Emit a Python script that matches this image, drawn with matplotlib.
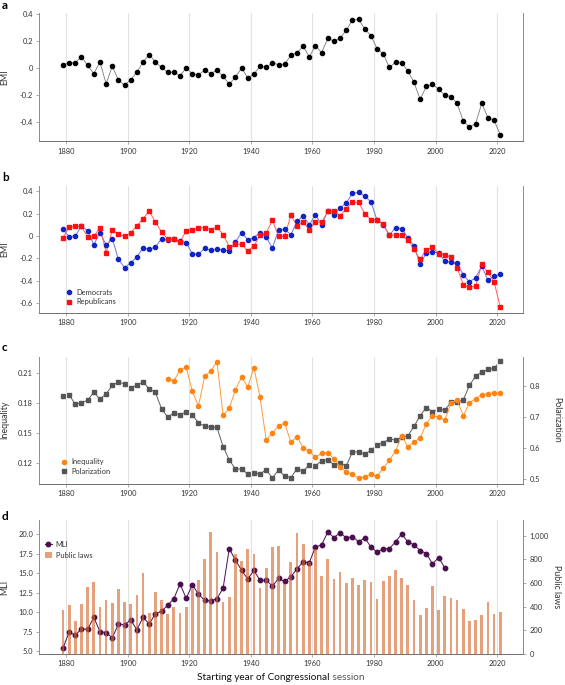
import numpy as np
import matplotlib.pyplot as plt
from matplotlib.lines import Line2D
from matplotlib.patches import Patch
from matplotlib.ticker import FuncFormatter

plt.rcParams['font.family'] = ['Lato', 'DejaVu Sans']

# --- Data (one value per Congress, starting year) ---
years = np.arange(1879, 2022, 2)

emi_all = [0.025, 0.04, 0.04, 0.085, 0.02, -0.04, 0.045, -0.115, 0.015, -0.09,
           -0.125, -0.085, -0.03, 0.045, 0.1, 0.045, 0.005, -0.03, -0.03, -0.055,
           0.0, -0.04, -0.05, -0.015, -0.04, -0.015, -0.06, -0.12, -0.065, 0.0,
           -0.07, -0.045, 0.015, 0.005, 0.04, 0.025, 0.03, 0.095, 0.115, 0.16,
           0.085, 0.165, 0.115, 0.22, 0.2, 0.22, 0.28, 0.355, 0.36, 0.29,
           0.24, 0.145, 0.105, 0.005, 0.045, 0.04, -0.02, -0.105, -0.23, -0.135,
           -0.12, -0.155, -0.2, -0.21, -0.26, -0.39, -0.435, -0.41, -0.26, -0.365,
           -0.385, -0.49]

emi_dem = [0.058, -0.008, 0.0, 0.09, 0.045, -0.08, 0.03, -0.08, -0.025, -0.21,
           -0.285, -0.24, -0.19, -0.105, -0.12, -0.1, -0.025, -0.035, -0.025, -0.05,
           -0.06, -0.16, -0.165, -0.11, -0.13, -0.12, -0.125, -0.135, -0.055, 0.03,
           -0.035, -0.015, 0.03, -0.01, -0.11, 0.055, 0.06, 0.01, 0.13, 0.18,
           0.1, 0.19, 0.1, 0.22, 0.19, 0.25, 0.295, 0.38, 0.39, 0.355,
           0.305, 0.14, 0.1, 0.005, 0.075, 0.065, -0.015, -0.09, -0.255, -0.15,
           -0.14, -0.155, -0.225, -0.235, -0.245, -0.35, -0.41, -0.375, -0.27, -0.395,
           -0.36, -0.345]

emi_rep = [-0.015, 0.08, 0.085, 0.085, -0.01, -0.005, 0.075, -0.15, 0.05, 0.015,
           -0.005, 0.03, 0.09, 0.155, 0.22, 0.125, 0.035, -0.03, -0.03, -0.055,
           0.045, 0.055, 0.07, 0.075, 0.055, 0.08, 0.01, -0.095, -0.075, -0.075,
           -0.135, -0.09, 0.005, 0.025, 0.14, -0.005, -0.005, 0.185, 0.09, 0.125,
           0.055, 0.125, 0.12, 0.22, 0.22, 0.18, 0.245, 0.3, 0.3, 0.2,
           0.145, 0.145, 0.105, 0.005, 0.01, 0.005, -0.035, -0.12, -0.21, -0.125,
           -0.1, -0.16, -0.175, -0.185, -0.285, -0.435, -0.46, -0.45, -0.255, -0.325,
           -0.41, -0.635]

ineq_years = np.arange(1913, 2022, 2)
inequality = [0.204, 0.2023, 0.2127, 0.216, 0.1916, 0.1769, 0.2067, 0.212, 0.2214, 0.1675,
              0.1745, 0.1933, 0.2057, 0.196, 0.2154, 0.1856, 0.1428, 0.1498, 0.1568, 0.1598,
              0.1404, 0.1461, 0.135, 0.1317, 0.1254, 0.1297, 0.13, 0.124, 0.116, 0.1103,
              0.1086, 0.1043, 0.106, 0.1084, 0.1064, 0.1144, 0.1224, 0.1317, 0.1468, 0.136,
              0.1408, 0.1448, 0.1591, 0.1672, 0.1659, 0.1628, 0.1796, 0.1832, 0.1669, 0.1802,
              0.1842, 0.1882, 0.1892, 0.1899, 0.1896]

polarization = [0.767, 0.772, 0.741, 0.746, 0.755, 0.78, 0.758, 0.775, 0.802, 0.813,
                0.807, 0.795, 0.803, 0.813, 0.791, 0.78, 0.727, 0.70, 0.714, 0.707,
                0.717, 0.707, 0.682, 0.671, 0.667, 0.667, 0.605, 0.562, 0.533, 0.533,
                0.517, 0.52, 0.518, 0.53, 0.504, 0.53, 0.51, 0.505, 0.534, 0.526,
                0.546, 0.543, 0.56, 0.563, 0.546, 0.552, 0.543, 0.588, 0.588, 0.581,
                0.593, 0.61, 0.618, 0.630, 0.626, 0.635, 0.640, 0.670, 0.705, 0.731,
                0.718, 0.726, 0.722, 0.748, 0.748, 0.756, 0.802, 0.832, 0.845, 0.854,
                0.857, 0.881]

mli_years = np.arange(1879, 2004, 2)
mli = [5.43, 7.47, 7.05, 7.9, 7.81, 9.35, 7.52, 7.39, 6.71, 8.5,
       8.41, 9.01, 7.77, 9.35, 8.5, 9.82, 10.11, 10.92, 11.73, 13.65,
       11.78, 13.52, 12.33, 11.52, 11.48, 11.73, 13.1, 18.17, 16.68, 15.4,
       14.25, 15.36, 14.08, 14.12, 13.35, 14.33, 13.95, 14.55, 15.57, 16.46,
       16.38, 18.38, 18.64, 20.3, 19.57, 20.21, 19.53, 19.7, 19.06, 19.53,
       18.38, 17.7, 18.13, 18.17, 19.02, 20.04, 19.02, 18.64, 17.91, 17.53,
       16.21, 17.02, 15.7]

public_laws = [369, 414, 282, 420, 566, 606, 395, 456, 431, 549,
               441, 420, 499, 685, 347, 524, 453, 338, 397, 347,
               400, 549, 628, 806, 1034, 865, 441, 486, 845, 786,
               887, 845, 562, 727, 902, 916, 594, 775, 1023, 930,
               781, 887, 659, 803, 634, 690, 600, 645, 583, 628,
               608, 468, 617, 659, 707, 642, 583, 459, 330, 389,
               575, 372, 490, 476, 453, 378, 279, 290, 327, 437,
               341, 358]

xticks = [1880, 1900, 1920, 1940, 1960, 1980, 2000, 2020]

# --- Styling helpers ---
TXT = '#333333'
SPINE = '#8c8c8c'
FS = 5.4     # tick / legend text
FL = 6.4     # axis labels


def emi_fmt(v, pos):
    return '0' if abs(v) < 1e-9 else f'{v:.1f}'


def style(ax):
    ax.set_xlim(1871.3, 2028.5)
    ax.set_xticks(xticks)
    ax.grid(axis='x', color='#e2e2e2', lw=0.8, zorder=0)
    ax.set_axisbelow(True)
    ax.spines['top'].set_visible(False)
    for s in ['left', 'right', 'bottom']:
        ax.spines[s].set_color(SPINE)
        ax.spines[s].set_linewidth(0.7)
    ax.spines['bottom'].set_color('#707070')
    ax.tick_params(axis='both', labelsize=FS, colors=SPINE, labelcolor=TXT,
                   length=2, width=0.5, pad=2.5)


def style_twin(ax2):
    ax2.set_xlim(1871.3, 2028.5)
    for s in ['top', 'left', 'bottom']:
        ax2.spines[s].set_visible(False)
    ax2.spines['right'].set_color(SPINE)
    ax2.spines['right'].set_linewidth(0.7)
    ax2.tick_params(axis='y', labelsize=FS, colors=SPINE, labelcolor=TXT,
                    length=2, width=0.5, pad=2.5)


fig = plt.figure(figsize=(5.65, 6.85), dpi=100)
L, W = 39.3 / 565, 484 / 565


def rect(top, bottom):
    return [L, 1 - bottom / 685, W, (bottom - top) / 685]


# --- Panel a ---
ax_a = fig.add_axes(rect(13.3, 141.3))
style(ax_a)
ax_a.plot(years, emi_all, '-', color='#7a7a7a', lw=0.6, zorder=2)
ax_a.plot(years, emi_all, 'o', color='black', ms=3.0, zorder=3)
ax_a.set_ylim(-0.54, 0.405)
ax_a.set_yticks([-0.4, -0.2, 0, 0.2, 0.4])
ax_a.yaxis.set_major_formatter(FuncFormatter(emi_fmt))
ax_a.set_ylabel('EMI', fontsize=FL, color=TXT)
ax_a.yaxis.set_label_coords(-0.062, 0.5)

# --- Panel b ---
ax_b = fig.add_axes(rect(185.6, 313))
style(ax_b)
ax_b.plot(years, emi_dem, '-', color='#6b78e0', lw=0.7, zorder=2)
ax_b.plot(years, emi_rep, '-', color='#ff6262', lw=0.7, zorder=2)
ax_b.plot(years, emi_dem, 'o', color='#1023c4', ms=3.0, zorder=3)
ax_b.plot(years, emi_rep, 's', color='#ff1010', ms=2.9, zorder=4)
ax_b.set_ylim(-0.69, 0.45)
ax_b.set_yticks([-0.6, -0.4, -0.2, 0, 0.2, 0.4])
ax_b.yaxis.set_major_formatter(FuncFormatter(emi_fmt))
ax_b.set_ylabel('EMI', fontsize=FL, color=TXT)
ax_b.yaxis.set_label_coords(-0.062, 0.5)
hb = [Line2D([], [], ls='none', marker='o', color='#1023c4', ms=3.0),
      Line2D([], [], ls='none', marker='s', color='#ff1010', ms=2.9)]
ax_b.legend(hb, ['Democrats', 'Republicans'], loc='lower left',
            bbox_to_anchor=(0.045, 0.02), frameon=False, fontsize=FS,
            handlelength=0.8, handletextpad=0.5, labelspacing=0.3,
            borderpad=0.2, labelcolor=TXT)

# --- Panel c ---
ax_c = fig.add_axes(rect(356.6, 483.6))
style(ax_c)
ax_c2 = ax_c.twinx()
style_twin(ax_c2)
ax_c2.plot(years, polarization, '-', color='#606060', lw=0.7, zorder=2)
ax_c2.plot(years, polarization, 's', color='#555555', ms=3.0, zorder=3)
ax_c.plot(ineq_years, inequality, '-', color='#ff9a3c', lw=0.7, zorder=2)
ax_c.plot(ineq_years, inequality, 'o', color='#ff8412', ms=3.0, zorder=3)
ax_c.set_zorder(ax_c2.get_zorder() + 1)
ax_c.patch.set_visible(False)
ax_c.set_ylim(0.099, 0.2265)
ax_c.set_yticks([0.12, 0.15, 0.18, 0.21])
ax_c.yaxis.set_major_formatter(FuncFormatter(lambda v, p: f'{v:.2f}'))
ax_c2.set_ylim(0.486, 0.895)
ax_c2.set_yticks([0.5, 0.6, 0.7, 0.8])
ax_c2.yaxis.set_major_formatter(FuncFormatter(lambda v, p: f'{v:.1f}'))
ax_c.set_ylabel('Inequality', fontsize=FL, color=TXT)
ax_c.yaxis.set_label_coords(-0.062, 0.5)
ax_c2.set_ylabel('Polarization', fontsize=FL, color=TXT, rotation=270)
ax_c2.yaxis.set_label_coords(1.078, 0.5)
hc = [Line2D([], [], ls='none', marker='o', color='#ff8412', ms=3.0),
      Line2D([], [], ls='none', marker='s', color='#555555', ms=3.0)]
ax_c.legend(hc, ['Inequality', 'Polarization'], loc='lower left',
            bbox_to_anchor=(0.035, 0.03), frameon=False, fontsize=FS,
            handlelength=0.8, handletextpad=0.5, labelspacing=0.3,
            borderpad=0.2, labelcolor=TXT)

# --- Panel d ---
ax_d = fig.add_axes(rect(520, 654))
style(ax_d)
ax_d2 = ax_d.twinx()
style_twin(ax_d2)
ax_d.plot(mli_years, mli, '-o', color='#4b0f50', lw=0.7, ms=3.2, zorder=3)
ax_d2.bar(years, public_laws, width=0.9, color='#d8662a', alpha=0.62,
          lw=0, zorder=2)
ax_d.set_ylim(4.65, 21.83)
ax_d.set_yticks([5, 7.5, 10, 12.5, 15, 17.5, 20])
ax_d.yaxis.set_major_formatter(FuncFormatter(lambda v, p: f'{v:.1f}'))
ax_d2.set_ylim(0, 1133)
ax_d2.set_yticks([0, 200, 400, 600, 800, 1000])
ax_d2.yaxis.set_major_formatter(FuncFormatter(lambda v, p: f'{v:,.0f}'))
ax_d.set_ylabel('MLI', fontsize=FL, color=TXT)
ax_d.yaxis.set_label_coords(-0.062, 0.5)
ax_d2.set_ylabel('Public laws', fontsize=FL, color=TXT, rotation=270)
ax_d2.yaxis.set_label_coords(1.078, 0.5)
hd = [Line2D([], [], ls='-', lw=0.7, marker='o', color='#4b0f50', ms=3.2),
      Patch(facecolor='#d8662a', alpha=0.62, lw=0)]
ax_d2.legend(hd, ['MLI', 'Public laws'], loc='upper left',
             bbox_to_anchor=(0.0, 0.885), frameon=False, fontsize=FS,
             handlelength=1.0, handleheight=0.9, handletextpad=0.5,
             labelspacing=0.55, borderpad=0.2, labelcolor=TXT)

# x-axis label in two tones
t1 = ax_d.text(0.5, -0.14, 'Starting year of Congressional', transform=ax_d.transAxes,
               ha='right', va='top', fontsize=7.2, color='#111111')
ax_d.annotate(' session', xy=(1, 0), xycoords=t1, ha='left', va='bottom',
              fontsize=7.2, color='#555555')
t1.set_x(0.5 + 0.1)

# Panel letters
for lbl, ytop in [('a', 0), ('b', 172), ('c', 342), ('d', 511)]:
    fig.text(2 / 565, 1 - ytop / 685, lbl, fontsize=8.5, fontweight='bold',
             ha='left', va='top', color='black')

plt.savefig('out.png', dpi=100)
plt.close()
